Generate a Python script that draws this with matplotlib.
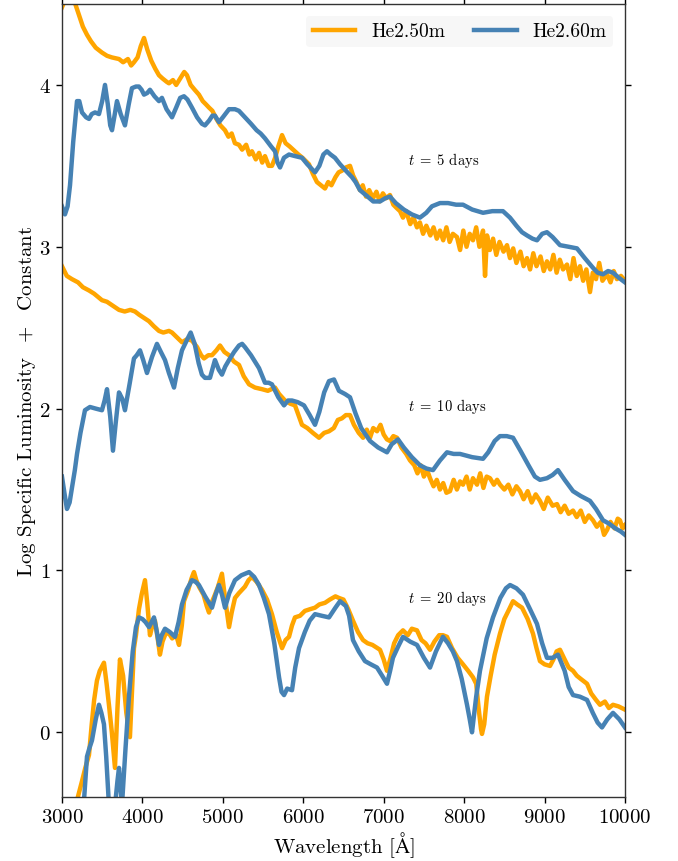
import matplotlib
matplotlib.use("Agg")
import matplotlib.pyplot as plt

# --- data (wavelength in Angstrom, log L + const) ---
# t = 5 days
wave_5_a = [3000, 3060, 3125, 3200, 3260, 3311, 3360, 3420, 3497, 3560, 3620, 3709, 3760, 3820, 3860, 3895,
            3940, 3980, 4020, 4060, 4110, 4160, 4206, 4250, 4300, 4330, 4380, 4420, 4470, 4520, 4554, 4600,
            4650, 4703, 4750, 4790, 4828, 4870, 4920, 4970, 5027, 5070, 5110, 5150, 5201, 5240, 5290, 5330,
            5362, 5410, 5450, 5490, 5524, 5570, 5611, 5650, 5690, 5736, 5780, 5830, 5897, 5940, 5990, 6030,
            6071, 6120, 6170, 6220, 6270, 6310, 6350, 6400, 6440, 6481, 6530, 6581, 6620, 6660, 6705, 6740,
            6780, 6820, 6867, 6910, 6950, 6990, 7030, 7078, 7120, 7160, 7203, 7240, 7280, 7330, 7370, 7414,
            7450, 7490, 7530, 7580, 7620, 7660, 7700, 7740, 7780, 7820, 7860, 7911, 7950, 7990, 8030, 8070,
            8110, 8150, 8190, 8235, 8260, 8285, 8320, 8360, 8400, 8440, 8490, 8533, 8570, 8610, 8650, 8700,
            8740, 8782, 8820, 8860, 8900, 8950, 8990, 9030, 9070, 9110, 9150, 9190, 9230, 9279, 9320, 9360,
            9400, 9440, 9480, 9520, 9565, 9600, 9640, 9680, 9720, 9777, 9820, 9860, 9900, 9950, 10000]
lum_5_a = [4.48, 4.55, 4.56, 4.45, 4.36, 4.31, 4.27, 4.23, 4.20, 4.18, 4.17, 4.16, 4.14, 4.16, 4.12, 4.14,
           4.17, 4.24, 4.29, 4.22, 4.15, 4.10, 4.06, 4.04, 4.02, 4.01, 4.03, 4.00, 4.04, 4.08, 4.06, 4.00,
           3.97, 3.94, 3.90, 3.88, 3.86, 3.84, 3.79, 3.75, 3.72, 3.68, 3.70, 3.64, 3.63, 3.60, 3.63, 3.57,
           3.59, 3.54, 3.58, 3.52, 3.56, 3.50, 3.50, 3.55, 3.62, 3.69, 3.64, 3.62, 3.59, 3.57, 3.55, 3.53,
           3.51, 3.45, 3.40, 3.38, 3.36, 3.40, 3.38, 3.43, 3.46, 3.47, 3.49, 3.50, 3.44, 3.40, 3.35, 3.38,
           3.31, 3.35, 3.30, 3.34, 3.28, 3.33, 3.30, 3.32, 3.26, 3.24, 3.22, 3.18, 3.22, 3.14, 3.18, 3.12,
           3.15, 3.08, 3.13, 3.07, 3.12, 3.05, 3.10, 3.04, 3.12, 3.03, 3.08, 3.06, 2.98, 3.10, 3.00, 3.08,
           3.04, 3.12, 3.00, 3.10, 2.82, 3.07, 2.98, 3.05, 2.95, 3.03, 2.97, 3.01, 2.93, 2.99, 2.90, 2.97,
           2.88, 2.93, 2.86, 2.96, 2.88, 2.94, 2.85, 2.91, 2.86, 2.95, 2.84, 2.92, 2.86, 2.89, 2.80, 2.93,
           2.82, 2.88, 2.79, 2.86, 2.72, 2.84, 2.80, 2.90, 2.79, 2.83, 2.78, 2.85, 2.80, 2.82, 2.79]

wave_5_b = [3000, 3037, 3070, 3100, 3140, 3187, 3215, 3249, 3300, 3336, 3370, 3411, 3460, 3500, 3535, 3570,
            3600, 3622, 3650, 3684, 3730, 3783, 3830, 3870, 3920, 3957, 3990, 4020, 4060, 4094, 4150, 4206,
            4243, 4300, 4368, 4420, 4470, 4517, 4560, 4616, 4680, 4740, 4778, 4830, 4870, 4902, 4952, 5000,
            5077, 5151, 5200, 5275, 5350, 5420, 5470, 5524, 5600, 5649, 5680, 5711, 5760, 5823, 5900, 5984,
            6050, 6146, 6200, 6250, 6295, 6340, 6394, 6457, 6530, 6606, 6650, 6705, 6800, 6870, 6954, 7020,
            7078, 7150, 7250, 7350, 7451, 7530, 7600, 7700, 7800, 7900, 7986, 8100, 8235, 8350, 8483, 8570,
            8650, 8720, 8782, 8850, 8906, 8970, 9030, 9100, 9192, 9300, 9403, 9500, 9602, 9660, 9727, 9790,
            9851, 9920, 10000]
lum_5_b = [3.25, 3.20, 3.25, 3.38, 3.65, 3.90, 3.90, 3.83, 3.80, 3.79, 3.82, 3.83, 3.82, 3.90, 4.00, 3.88,
           3.75, 3.72, 3.80, 3.90, 3.82, 3.75, 3.88, 3.98, 3.99, 3.99, 3.97, 3.94, 3.95, 3.97, 3.93, 3.90,
           3.92, 3.85, 3.80, 3.86, 3.92, 3.93, 3.91, 3.86, 3.80, 3.76, 3.75, 3.78, 3.81, 3.81, 3.77, 3.80,
           3.85, 3.85, 3.84, 3.80, 3.76, 3.72, 3.70, 3.67, 3.62, 3.59, 3.52, 3.49, 3.55, 3.57, 3.56, 3.55,
           3.51, 3.46, 3.50, 3.57, 3.59, 3.57, 3.55, 3.51, 3.47, 3.43, 3.40, 3.35, 3.31, 3.28, 3.28, 3.30,
           3.31, 3.27, 3.23, 3.20, 3.18, 3.21, 3.25, 3.27, 3.27, 3.26, 3.26, 3.23, 3.21, 3.22, 3.22, 3.18,
           3.13, 3.09, 3.07, 3.05, 3.04, 3.08, 3.09, 3.06, 3.01, 3.00, 2.99, 2.93, 2.87, 2.84, 2.83, 2.85,
           2.84, 2.81, 2.78]

# t = 10 days
wave_10_a = [3000, 3060, 3124, 3200, 3260, 3336, 3400, 3497, 3560, 3620, 3709, 3780, 3850, 3908, 3960, 4020,
             4082, 4140, 4206, 4260, 4330, 4368, 4430, 4492, 4560, 4616, 4680, 4730, 4766, 4820, 4865, 4920,
             4965, 5020, 5077, 5140, 5201, 5260, 5326, 5400, 5487, 5560, 5649, 5700, 5773, 5840, 5897, 5940,
             5984, 6050, 6120, 6196, 6260, 6320, 6380, 6430, 6481, 6530, 6581, 6630, 6690, 6743, 6790, 6830,
             6870, 6917, 6960, 7000, 7040, 7078, 7120, 7165, 7220, 7280, 7327, 7380, 7420, 7460, 7500, 7540,
             7576, 7620, 7660, 7700, 7740, 7780, 7824, 7870, 7910, 7950, 7986, 8030, 8070, 8110, 8160, 8200,
             8240, 8280, 8322, 8370, 8410, 8446, 8500, 8550, 8600, 8650, 8695, 8740, 8790, 8840, 8890, 8943,
             8990, 9040, 9100, 9155, 9200, 9250, 9300, 9354, 9400, 9450, 9500, 9550, 9602, 9650, 9700, 9740,
             9777, 9820, 9870, 9910, 9938, 9970, 10000]
lum_10_a = [2.88, 2.82, 2.80, 2.78, 2.75, 2.73, 2.71, 2.67, 2.66, 2.64, 2.61, 2.60, 2.61, 2.60, 2.58, 2.56,
            2.54, 2.51, 2.48, 2.47, 2.48, 2.47, 2.44, 2.41, 2.43, 2.42, 2.38, 2.33, 2.31, 2.33, 2.33, 2.36,
            2.39, 2.35, 2.33, 2.29, 2.27, 2.20, 2.15, 2.13, 2.12, 2.11, 2.13, 2.09, 2.05, 2.03, 2.02, 1.96,
            1.90, 1.88, 1.85, 1.82, 1.85, 1.86, 1.88, 1.93, 1.94, 1.96, 1.96, 1.90, 1.85, 1.82, 1.87, 1.82,
            1.88, 1.86, 1.90, 1.84, 1.81, 1.80, 1.83, 1.82, 1.76, 1.72, 1.68, 1.65, 1.60, 1.65, 1.58, 1.62,
            1.57, 1.52, 1.56, 1.50, 1.54, 1.48, 1.49, 1.56, 1.50, 1.55, 1.53, 1.58, 1.50, 1.57, 1.53, 1.60,
            1.51, 1.58, 1.57, 1.53, 1.56, 1.53, 1.50, 1.53, 1.47, 1.52, 1.49, 1.44, 1.49, 1.42, 1.47, 1.43,
            1.38, 1.45, 1.40, 1.41, 1.36, 1.40, 1.35, 1.37, 1.33, 1.37, 1.30, 1.34, 1.31, 1.27, 1.30, 1.22,
            1.25, 1.30, 1.26, 1.32, 1.31, 1.26, 1.28]

wave_10_b = [3000, 3030, 3062, 3095, 3124, 3160, 3187, 3230, 3286, 3348, 3420, 3497, 3530, 3560, 3600, 3634,
             3670, 3709, 3750, 3783, 3840, 3895, 3930, 3970, 4010, 4057, 4120, 4181, 4230, 4281, 4330, 4393,
             4440, 4492, 4550, 4600, 4650, 4700, 4740, 4778, 4840, 4902, 4950, 4989, 5030, 5077, 5140, 5201,
             5240, 5275, 5350, 5450, 5524, 5570, 5611, 5690, 5761, 5810, 5860, 5930, 6009, 6080, 6146, 6200,
             6260, 6320, 6382, 6444, 6520, 6581, 6650, 6720, 6830, 6930, 7041, 7100, 7178, 7250, 7350, 7451,
             7530, 7613, 7700, 7787, 7870, 7949, 8100, 8235, 8300, 8380, 8446, 8530, 8608, 8700, 8800, 8880,
             8943, 9030, 9100, 9167, 9250, 9354, 9450, 9565, 9640, 9727, 9800, 9880, 9950, 10000]
lum_10_b = [1.58, 1.48, 1.38, 1.42, 1.51, 1.62, 1.72, 1.85, 1.99, 2.01, 2.00, 1.99, 2.05, 2.12, 1.95, 1.74,
            1.92, 2.10, 2.06, 1.99, 2.15, 2.31, 2.33, 2.36, 2.30, 2.22, 2.32, 2.40, 2.35, 2.30, 2.22, 2.13,
            2.25, 2.36, 2.42, 2.47, 2.40, 2.28, 2.21, 2.19, 2.19, 2.30, 2.24, 2.21, 2.26, 2.30, 2.35, 2.39,
            2.40, 2.38, 2.33, 2.25, 2.16, 2.16, 2.15, 2.07, 2.02, 2.05, 2.05, 2.04, 2.02, 1.96, 1.90, 1.98,
            2.10, 2.17, 2.18, 2.11, 2.09, 2.07, 1.97, 1.88, 1.80, 1.76, 1.73, 1.78, 1.81, 1.76, 1.70, 1.65,
            1.63, 1.62, 1.68, 1.73, 1.72, 1.72, 1.70, 1.69, 1.73, 1.80, 1.83, 1.83, 1.82, 1.74, 1.65, 1.58,
            1.56, 1.57, 1.59, 1.62, 1.56, 1.49, 1.46, 1.43, 1.38, 1.31, 1.29, 1.26, 1.24, 1.22]

# t = 20 days
wave_20_a = [3187, 3250, 3290, 3336, 3370, 3400, 3435, 3470, 3522, 3555, 3584, 3620, 3659, 3690, 3721, 3760,
             3800, 3845, 3870, 3895, 3920, 3957, 3990, 4032, 4060, 4094, 4125, 4156, 4190, 4218, 4250, 4281,
             4320, 4370, 4420, 4455, 4490, 4517, 4570, 4610, 4641, 4670, 4703, 4760, 4800, 4828, 4860, 4902,
             4940, 4989, 5030, 5077, 5110, 5151, 5200, 5275, 5320, 5362, 5420, 5487, 5550, 5611, 5670, 5736,
             5780, 5823, 5860, 5897, 5960, 6020, 6080, 6146, 6200, 6270, 6330, 6400, 6444, 6500, 6560, 6618,
             6680, 6743, 6800, 6860, 6954, 7000, 7041, 7080, 7130, 7180, 7240, 7300, 7350, 7414, 7470, 7520,
             7576, 7630, 7690, 7737, 7787, 7850, 7920, 7986, 8050, 8110, 8150, 8180, 8210, 8222, 8250, 8284,
             8330, 8380, 8446, 8500, 8560, 8608, 8660, 8720, 8790, 8856, 8900, 8943, 9000, 9068, 9110, 9150,
             9192, 9250, 9300, 9354, 9400, 9450, 9528, 9580, 9640, 9689, 9750, 9800, 9851, 9920, 10000]
lum_20_a = [-0.42, -0.30, -0.22, -0.14, 0.05, 0.20, 0.32, 0.38, 0.43, 0.30, 0.17, 0.00, -0.22, 0.15, 0.45, 0.35,
            0.12, -0.03, 0.25, 0.52, 0.60, 0.76, 0.85, 0.94, 0.80, 0.60, 0.66, 0.69, 0.58, 0.48, 0.56, 0.60,
            0.62, 0.58, 0.60, 0.54, 0.66, 0.81, 0.88, 0.95, 0.99, 0.94, 0.90, 0.85, 0.78, 0.74, 0.80, 0.85,
            0.90, 0.98, 0.82, 0.65, 0.74, 0.83, 0.86, 0.90, 0.94, 0.96, 0.93, 0.88, 0.82, 0.73, 0.62, 0.52,
            0.57, 0.59, 0.66, 0.71, 0.72, 0.75, 0.76, 0.77, 0.79, 0.80, 0.82, 0.84, 0.83, 0.82, 0.76, 0.69,
            0.62, 0.57, 0.55, 0.54, 0.51, 0.45, 0.38, 0.45, 0.55, 0.60, 0.63, 0.60, 0.64, 0.63, 0.57, 0.55,
            0.51, 0.56, 0.60, 0.60, 0.59, 0.52, 0.46, 0.42, 0.38, 0.34, 0.30, 0.15, 0.02, -0.01, 0.05, 0.22,
            0.35, 0.48, 0.61, 0.70, 0.76, 0.81, 0.79, 0.77, 0.70, 0.61, 0.52, 0.44, 0.42, 0.41, 0.45, 0.50,
            0.51, 0.45, 0.40, 0.38, 0.35, 0.33, 0.30, 0.24, 0.20, 0.17, 0.19, 0.15, 0.17, 0.16, 0.14]

wave_20_b = [3274, 3311, 3340, 3373, 3420, 3460, 3490, 3522, 3550, 3584, 3660, 3690, 3709, 3730, 3746, 3790,
             3833, 3880, 3920, 3957, 4000, 4040, 4082, 4144, 4180, 4206, 4240, 4281, 4340, 4405, 4450, 4492,
             4550, 4616, 4660, 4703, 4780, 4865, 4910, 4952, 4990, 5027, 5080, 5151, 5230, 5326, 5390, 5450,
             5510, 5574, 5640, 5699, 5730, 5761, 5800, 5860, 5900, 5947, 6020, 6080, 6146, 6230, 6320, 6400,
             6457, 6530, 6570, 6618, 6690, 6767, 6840, 6917, 6980, 7041, 7080, 7115, 7180, 7240, 7330, 7414,
             7500, 7576, 7650, 7737, 7800, 7860, 7911, 7970, 8036, 8070, 8098, 8150, 8197, 8280, 8359, 8450,
             8520, 8571, 8650, 8732, 8820, 8906, 8970, 9030, 9100, 9167, 9250, 9300, 9354, 9440, 9528, 9600,
             9660, 9714, 9780, 9851, 9930, 10000]
lum_20_b = [-0.42, -0.15, -0.10, -0.05, 0.08, 0.17, 0.12, 0.05, -0.15, -0.45, -0.45, -0.30, -0.22, -0.35, -0.45, -0.10,
            0.22, 0.50, 0.65, 0.71, 0.70, 0.68, 0.65, 0.71, 0.62, 0.54, 0.60, 0.64, 0.62, 0.59, 0.68, 0.79,
            0.88, 0.94, 0.93, 0.91, 0.84, 0.77, 0.85, 0.91, 0.85, 0.77, 0.86, 0.94, 0.97, 0.99, 0.96, 0.91,
            0.83, 0.73, 0.55, 0.34, 0.25, 0.23, 0.27, 0.26, 0.40, 0.52, 0.62, 0.69, 0.73, 0.72, 0.71, 0.77,
            0.81, 0.78, 0.72, 0.57, 0.50, 0.44, 0.42, 0.40, 0.35, 0.30, 0.38, 0.46, 0.53, 0.59, 0.56, 0.54,
            0.46, 0.40, 0.50, 0.59, 0.55, 0.50, 0.44, 0.33, 0.17, 0.08, 0.00, 0.22, 0.38, 0.58, 0.71, 0.83,
            0.89, 0.91, 0.89, 0.85, 0.76, 0.67, 0.55, 0.46, 0.46, 0.48, 0.38, 0.28, 0.23, 0.22, 0.20, 0.12,
            0.06, 0.03, 0.08, 0.12, 0.08, 0.03]

models = ["He2.50m", "He2.60m"]
colors = ["orange", "steelblue"]
epoch_labels = ["5", "10", "20"]
label_y = [3.54, 2.02, 0.83]

# --- style ---
plt.rcParams["font.family"] = "serif"
plt.rcParams["font.serif"] = ["cmr10"]
plt.rcParams["mathtext.fontset"] = "cm"
plt.rcParams["axes.formatter.use_mathtext"] = True
plt.rcParams["axes.unicode_minus"] = False

fig = plt.figure(figsize=(6.78, 8.62), dpi=100)
ax = fig.add_axes([0.0914, 0.0742, 0.8304, 0.92])

epochs = [(wave_5_a, lum_5_a, wave_5_b, lum_5_b),
          (wave_10_a, lum_10_a, wave_10_b, lum_10_b),
          (wave_20_a, lum_20_a, wave_20_b, lum_20_b)]

for i, (wa, la, wb, lb) in enumerate(epochs):
    ax.plot(wa, la, color=colors[0], lw=3.2, label=models[0] if i == 0 else None)
    ax.plot(wb, lb, color=colors[1], lw=3.2, label=models[1] if i == 0 else None)
    ax.text(7300, label_y[i], r"$t \;=\; %s$ days" % epoch_labels[i], fontsize=10.5,
            ha="left", va="center")

ax.set_xlim(3000, 10000)
ax.set_ylim(-0.4, 4.5)
ax.set_xticks(range(3000, 10001, 1000))
ax.set_yticks([0, 1, 2, 3, 4])
ax.tick_params(direction="out", length=4, width=1, labelsize=15, pad=4,
               top=True, right=True, labeltop=False, labelright=False)
for side in ["left", "bottom", "top", "right"]:
    ax.spines[side].set_color("#333333")
    ax.spines[side].set_linewidth(1)

ax.set_xlabel(r"Wavelength [$\mathrm{\AA}$]", fontsize=15, labelpad=2)
ax.set_ylabel(r"Log Specific Luminosity $\;+\;$ Constant", fontsize=15, labelpad=1)

leg = ax.legend(loc="upper right", ncol=2, fontsize=14, frameon=True,
                handlelength=2.2, columnspacing=1.5, borderaxespad=0.6,
                borderpad=0.35)
leg.get_frame().set_facecolor("#f7f7f7")
leg.get_frame().set_edgecolor("none")
leg.get_frame().set_alpha(1)

fig.savefig("out.png", dpi=100)
